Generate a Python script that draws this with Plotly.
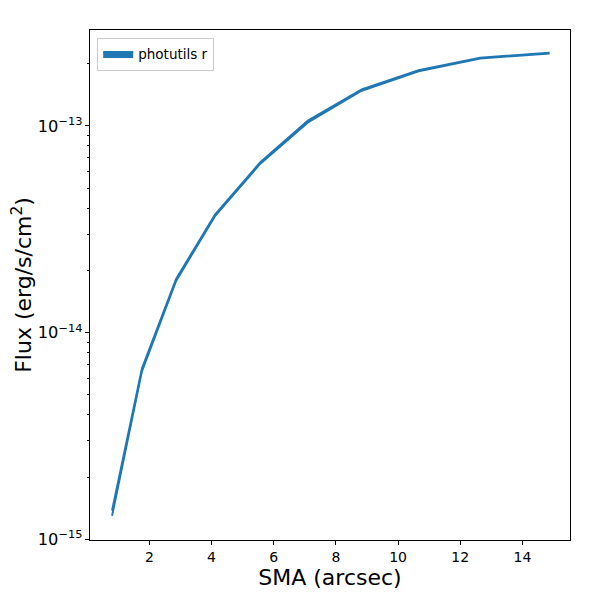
import plotly.graph_objects as go

# photutils isophote profile, r band
sma = [0.80, 1.76, 2.86, 4.11, 5.56, 7.10, 8.83, 10.66, 12.64, 14.87]
flux_low = [1.30e-15, 6.5e-15, 1.78e-14, 3.66e-14, 6.55e-14, 1.04e-13, 1.48e-13, 1.84e-13, 2.12e-13, 2.24e-13]
flux_high = [1.38e-15, 6.7e-15, 1.82e-14, 3.72e-14, 6.65e-14, 1.06e-13, 1.50e-13, 1.86e-13, 2.14e-13, 2.26e-13]

blue = '#1f77b4'

fig = go.Figure()

fig.add_trace(go.Scatter(
    x=sma, y=flux_low,
    mode='lines',
    line=dict(color=blue, width=2),
    showlegend=False,
    hoverinfo='skip'))

fig.add_trace(go.Scatter(
    x=sma, y=flux_high,
    mode='lines',
    line=dict(color=blue, width=2),
    fill='tonexty',
    fillcolor=blue,
    name='photutils r'))

fig.update_layout(
    width=600, height=600,
    paper_bgcolor='white',
    plot_bgcolor='white',
    font=dict(family='DejaVu Sans', color='black', size=14),
    margin=dict(l=82, r=38, t=22, b=68),
    legend=dict(
        x=0.015, y=0.985, xanchor='left', yanchor='top',
        bordercolor='#cccccc', borderwidth=1,
        bgcolor='rgba(255,255,255,0.8)',
        font=dict(size=13.5),
    ),
    xaxis=dict(
        range=[0.09, 15.53],
        tickvals=[2, 4, 6, 8, 10, 12, 14],
        ticks='outside', ticklen=4, tickwidth=1, tickcolor='black',
        showline=True, linecolor='black', linewidth=1, mirror=True,
        showgrid=False, zeroline=False, automargin=False,
        title=dict(text='SMA (arcsec)', font=dict(size=22), standoff=4),
    ),
    yaxis=dict(
        type='log',
        range=[-15.003, -12.536],
        dtick=1, exponentformat='power',
        tickfont=dict(size=13),
        ticks='outside', ticklen=4, tickwidth=1, tickcolor='black',
        minor=dict(dtick='D1', ticks='outside', ticklen=2, tickcolor='black', showgrid=False),
        showline=True, linecolor='black', linewidth=1, mirror=True,
        showgrid=False, zeroline=False, automargin=False,
        title=dict(text='Flux (erg/s/cm<sup>2</sup>)', font=dict(size=22), standoff=10),
    ),
)

fig.write_html("out.html")
